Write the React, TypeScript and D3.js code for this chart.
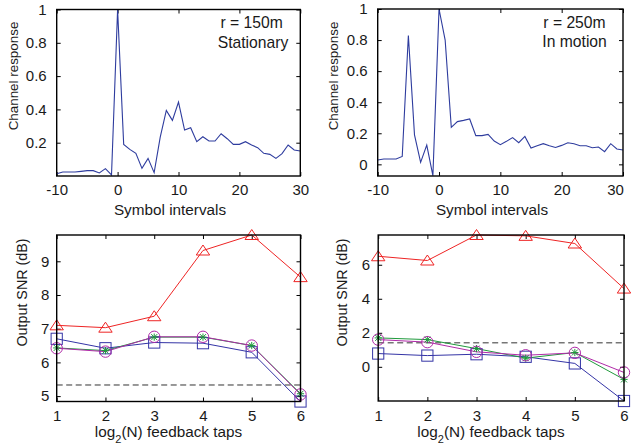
import React, { useEffect, useRef } from 'react'
import * as d3 from 'd3'

const W = 631
const H = 446
const FONT = '"Liberation Sans", Arial, Helvetica, sans-serif'

// channel response, symbol intervals -10..30
const lags = [-10, -9, -8, -7, -6, -5, -4, -3, -2, -1, 0, 1, 2, 3, 4, 5, 6, 7, 8, 9, 10,
  11, 12, 13, 14, 15, 16, 17, 18, 19, 20, 21, 22, 23, 24, 25, 26, 27, 28, 29, 30]
const stationaryResp = [0.014, 0.024, 0.024, 0.024, 0.028, 0.032, 0.032, 0.018, 0.044, 0.006,
  1.0, 0.19, 0.16, 0.136, 0.046, 0.106, 0.02, 0.234, 0.394, 0.334,
  0.444, 0.276, 0.29, 0.206, 0.236, 0.21, 0.21, 0.254, 0.224, 0.19,
  0.19, 0.206, 0.186, 0.17, 0.136, 0.13, 0.106, 0.134, 0.186, 0.156, 0.15]
const motionResp = [0.028, 0.034, 0.034, 0.034, 0.051, 0.83, 0.19, 0.013, 0.124, -0.073,
  1.0, 0.8, 0.238, 0.275, 0.283, 0.292, 0.185, 0.185, 0.193, 0.15,
  0.127, 0.148, 0.172, 0.139, 0.18, 0.105, 0.12, 0.133, 0.12, 0.109,
  0.122, 0.139, 0.133, 0.12, 0.12, 0.107, 0.112, 0.082, 0.133, 0.099, 0.092]
const lagTicks = [-10, 0, 10, 20, 30]
const respTicksStat = [0.2, 0.4, 0.6, 0.8, 1]
const respTicksMotion = [0, 0.2, 0.4, 0.6, 0.8, 1]

// output SNR vs log2(N) feedback taps
const taps = [1, 2, 3, 4, 5, 6]
const statTri = [7.1, 7.03, 7.37, 9.32, 9.78, 8.53]
const statSquare = [6.7, 6.42, 6.59, 6.57, 6.3, 4.84]
const statStar = [6.43, 6.35, 6.75, 6.75, 6.5, 5.07]
const statCircle = [6.42, 6.32, 6.76, 6.76, 6.5, 5.05]
const statRef = 5.33
const motionTri = [6.5, 6.25, 7.75, 7.7, 7.25, 4.6]
const motionSquare = [0.78, 0.66, 0.74, 0.59, 0.2, -2.01]
const motionStar = [1.7, 1.6, 1.07, 0.51, 0.84, -0.74]
const motionCircle = [1.6, 1.45, 0.88, 0.68, 0.82, -0.33]
const motionRef = 1.41
const snrTicksStat = [5, 6, 7, 8, 9]
const snrTicksMotion = [0, 2, 4, 6]

const RED = '#ee2424'
const BLUE = '#3434a6'
const GREEN = '#1f9a3c'
const MAGENTA = '#b02aa8'
const INK = '#1a1a1a'

const panels = [
  {
    box: [56.7, 300.3, 9.5, 176], xDomain: [-10, 30], yDomain: [0, 1],
    xTicks: lagTicks, yTicks: respTicksStat, xPad: 8.3, yPad: 10,
    xs: lags, line: stationaryResp,
    xlabel: { text: 'Symbol intervals', x: 170, y: 215 },
    ylabel: { text: 'Channel response', x: 18, y: 76, size: 13.4 },
    note: [{ text: 'r = 150m', x: 220.5, y: 28.3 }, { text: 'Stationary', x: 217.7, y: 48.3 }],
  },
  {
    box: [377.7, 623, 9, 176], xDomain: [-10, 30], yDomain: [-0.075, 1],
    xTicks: lagTicks, yTicks: respTicksMotion, xPad: 8.3, yPad: 10, lastDx: -8,
    xs: lags, line: motionResp,
    xlabel: { text: 'Symbol intervals', x: 492, y: 215 },
    ylabel: { text: 'Channel response', x: 338, y: 76, size: 13.4 },
    note: [{ text: 'r = 250m', x: 543.3, y: 28.3 }, { text: 'In motion', x: 542.3, y: 47 }],
  },
  {
    box: [56.7, 300.5, 235, 401.5], xDomain: [1, 6], yDomain: [4.84, 9.78],
    xTicks: taps, yTicks: snrTicksStat, xPad: 9.3, yPad: 7.4,
    xs: taps, ref: statRef,
    series: [
      { values: statTri, color: RED, marker: 'tri' },
      { values: statSquare, color: BLUE, marker: 'square' },
      { values: statStar, color: GREEN, marker: 'star' },
      { values: statCircle, color: MAGENTA, marker: 'circle' },
    ],
    xlabel: { text: 'log', x: 168.5, y: 437, sub: true },
    ylabel: { text: 'Output SNR (dB)', x: 26.5, y: 292.5, size: 14.3 },
  },
  {
    box: [378.2, 624, 235, 401], xDomain: [1, 6], yDomain: [-2.01, 7.75],
    xTicks: taps, yTicks: snrTicksMotion, xPad: 9.3, yPad: 8,
    xs: taps, ref: motionRef,
    series: [
      { values: motionTri, color: RED, marker: 'tri' },
      { values: motionSquare, color: BLUE, marker: 'square' },
      { values: motionStar, color: GREEN, marker: 'star' },
      { values: motionCircle, color: MAGENTA, marker: 'circle' },
    ],
    xlabel: { text: 'log', x: 491, y: 437, sub: true },
    ylabel: { text: 'Output SNR (dB)', x: 346.5, y: 292.5, size: 14.3 },
  },
]

function drawMarker(g, kind, cx, cy, color) {
  if (kind === 'tri') {
    g.append('path')
      .attr('d', `M${cx},${cy - 5.5}L${cx + 6.7},${cy + 4.5}L${cx - 6.7},${cy + 4.5}Z`)
      .attr('fill', 'none').attr('stroke', color).attr('stroke-width', 1)
  } else if (kind === 'square') {
    g.append('rect')
      .attr('x', cx - 5.6).attr('y', cy - 5.6).attr('width', 11.2).attr('height', 11.2)
      .attr('fill', 'none').attr('stroke', color).attr('stroke-width', 1)
  } else if (kind === 'circle') {
    g.append('circle')
      .attr('cx', cx).attr('cy', cy).attr('r', 5.7)
      .attr('fill', 'none').attr('stroke', color).attr('stroke-width', 1)
  } else {
    const s = 3
    g.append('path')
      .attr('d', `M${cx - s},${cy - s}L${cx + s},${cy + s}M${cx - s},${cy + s}L${cx + s},${cy - s}M${cx},${cy - s * 1.2}L${cx},${cy + s * 1.2}M${cx - s * 1.2},${cy}L${cx + s * 1.2},${cy}`)
      .attr('fill', 'none').attr('stroke', color).attr('stroke-width', 1)
  }
}

function drawPanel(svg, p) {
  const [x0, x1, y0, y1] = p.box
  const x = d3.scaleLinear().domain(p.xDomain).range([x0, x1])
  const y = d3.scaleLinear().domain(p.yDomain).range([y1, y0])
  const g = svg.append('g')
  const fmt = d => String(d)

  // inward ticks on all four sides, like a boxed matlab axes
  const bottom = g.append('g').attr('transform', `translate(0,${y1})`)
    .call(d3.axisBottom(x).tickValues(p.xTicks).tickSizeInner(-4).tickSizeOuter(0).tickPadding(p.xPad).tickFormat(fmt))
  g.append('g').attr('transform', `translate(0,${y0})`)
    .call(d3.axisTop(x).tickValues(p.xTicks).tickSizeInner(-4).tickSizeOuter(0).tickFormat(() => ''))
  g.append('g').attr('transform', `translate(${x0},0)`)
    .call(d3.axisLeft(y).tickValues(p.yTicks).tickSizeInner(-4).tickSizeOuter(0).tickPadding(p.yPad).tickFormat(fmt))
  g.append('g').attr('transform', `translate(${x1},0)`)
    .call(d3.axisRight(y).tickValues(p.yTicks).tickSizeInner(-4).tickSizeOuter(0).tickFormat(() => ''))
  g.selectAll('.domain').remove()
  g.selectAll('.tick line').attr('stroke', '#000')
  g.selectAll('.tick text')
    .attr('font-family', FONT).attr('font-size', 15).attr('fill', INK)
  if (p.lastDx) {
    bottom.selectAll('.tick text').filter((d, i, n) => i === n.length - 1).attr('dx', p.lastDx)
  }

  if (p.line) {
    const path = d3.line().x((d, i) => x(p.xs[i])).y(d => y(d))
    g.append('path').datum(p.line).attr('d', path)
      .attr('fill', 'none').attr('stroke', '#2e3c9e').attr('stroke-width', 1.1)
  }

  if (p.ref !== undefined) {
    g.append('line')
      .attr('x1', x0).attr('x2', x1).attr('y1', y(p.ref)).attr('y2', y(p.ref))
      .attr('stroke', '#333').attr('stroke-width', 1).attr('stroke-dasharray', '6,3.5')
  }

  if (p.series) {
    p.series.forEach(s => {
      const path = d3.line().x((d, i) => x(p.xs[i])).y(d => y(d))
      g.append('path').datum(s.values).attr('d', path)
        .attr('fill', 'none').attr('stroke', s.color).attr('stroke-width', 1)
    })
    p.series.forEach(s => {
      s.values.forEach((v, i) => drawMarker(g, s.marker, x(p.xs[i]), y(v), s.color))
    })
  }

  g.append('rect')
    .attr('x', x0).attr('y', y0).attr('width', x1 - x0).attr('height', y1 - y0)
    .attr('fill', 'none').attr('stroke', '#000').attr('stroke-width', 1.4)

  // x label
  const xl = g.append('text')
    .attr('x', p.xlabel.x).attr('y', p.xlabel.y)
    .attr('text-anchor', 'middle').attr('font-family', FONT).attr('font-size', 15.3).attr('fill', INK)
  if (p.xlabel.sub) {
    xl.append('tspan').text('log')
    xl.append('tspan').attr('dy', 6.3).attr('font-size', 11).text('2')
    xl.append('tspan').attr('dy', -6.3).text('(N) feedback taps')
  } else {
    xl.text(p.xlabel.text)
  }

  // y label
  g.append('text')
    .attr('transform', `translate(${p.ylabel.x},${p.ylabel.y}) rotate(-90)`)
    .attr('text-anchor', 'middle').attr('font-family', FONT).attr('font-size', p.ylabel.size).attr('fill', INK)
    .text(p.ylabel.text)

  if (p.note) {
    p.note.forEach(n => {
      g.append('text').attr('x', n.x).attr('y', n.y)
        .attr('font-family', FONT).attr('font-size', 15.7).attr('fill', INK)
        .text(n.text)
    })
  }
}

export default function App() {
  const ref = useRef<SVGSVGElement>(null)

  useEffect(() => {
    const svg = d3.select(ref.current)
    svg.selectAll('*').remove()
    panels.forEach(p => drawPanel(svg, p))
  }, [])

  return (
    <div style={{ position: 'absolute', left: 0, top: 0 }}>
      <svg ref={ref} width={W} height={H} style={{ display: 'block', background: '#fff' }} />
    </div>
  )
}
